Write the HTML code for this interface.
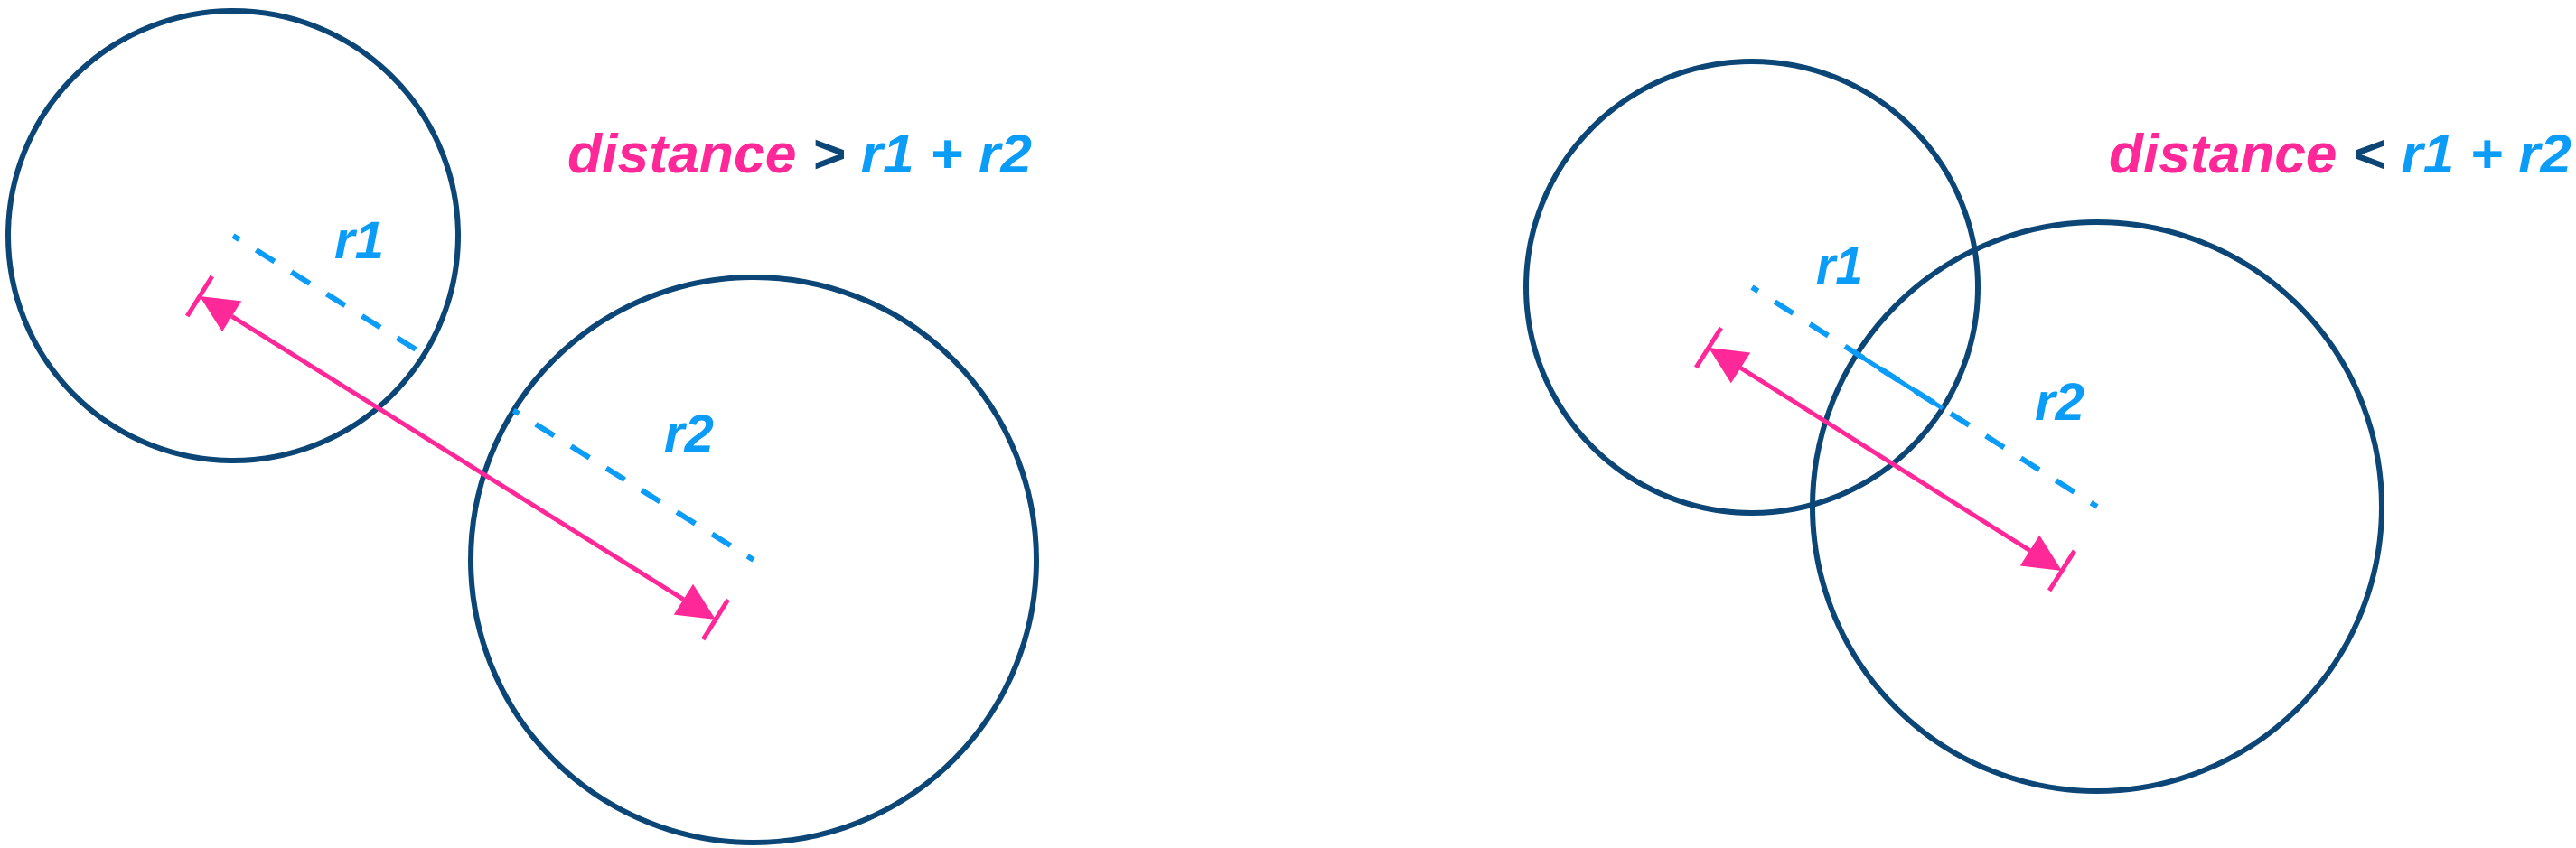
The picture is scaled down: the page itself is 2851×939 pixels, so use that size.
<!DOCTYPE html>
<html><head><meta charset="utf-8"><style>
html,body{margin:0;padding:0;background:#fff;width:2851px;height:939px;overflow:hidden}
text{font-family:"Liberation Sans",Arial,sans-serif;font-weight:bold;font-style:italic}
</style></head><body>
<svg id="s" width="2851" height="939" viewBox="0 0 2851 939" xmlns="http://www.w3.org/2000/svg"></svg>
<script>
// Scene data
const circleCentersX = [258, 834, 1939, 2321];
const circleCentersY = [261, 620, 318, 561];
const circleRadii = [249, 313, 250, 315];
const arrowStarts = [[221, 328], [1891, 385]];
const arrowEnds = [[792, 686], [2282, 632]];
const NS = 'http://www.w3.org/2000/svg';
const svg = document.getElementById('s');
const NAVY = '#0b4677', BLUE = '#0b9cf7', PINK = '#ff2898';
function mk(tag, attrs) {
  const e = document.createElementNS(NS, tag);
  for (const k in attrs) e.setAttribute(k, attrs[k]);
  svg.appendChild(e);
  return e;
}
for (let i = 0; i < 4; i++) {
  const c = mk('circle', {cx: circleCentersX[i], cy: circleCentersY[i], r: circleRadii[i], fill: 'none', stroke: NAVY, 'stroke-width': 6});
  
  
}
// radius dashed lines
for (let p = 0; p < 2; p++) {
  const a = p * 2, b = a + 1;
  const dx = circleCentersX[b] - circleCentersX[a], dy = circleCentersY[b] - circleCentersY[a];
  const L = Math.hypot(dx, dy), ux = dx / L, uy = dy / L;
  const l1 = mk('line', {x1: circleCentersX[a], y1: circleCentersY[a], x2: circleCentersX[a] + ux * circleRadii[a], y2: circleCentersY[a] + uy * circleRadii[a], stroke: BLUE, 'stroke-width': 6, 'stroke-dasharray': '24 22', 'stroke-dashoffset': 16});
  
  
  const l2 = mk('line', {x1: circleCentersX[b], y1: circleCentersY[b], x2: circleCentersX[b] - ux * circleRadii[b], y2: circleCentersY[b] - uy * circleRadii[b], stroke: BLUE, 'stroke-width': 6, 'stroke-dasharray': '24 22', 'stroke-dashoffset': 16});
  
  
  if (circleRadii[a] + circleRadii[b] > L) {
    const s = L - circleRadii[b], e = circleRadii[a];
    const ov = mk('line', {x1: circleCentersX[a] + ux * s, y1: circleCentersY[a] + uy * s, x2: circleCentersX[a] + ux * e, y2: circleCentersY[a] + uy * e, stroke: BLUE, 'stroke-width': 5});
    
    
  }
}
// distance arrows
for (let p = 0; p < 2; p++) {
  const [x1, y1] = arrowStarts[p], [x2, y2] = arrowEnds[p];
  const L = Math.hypot(x2 - x1, y2 - y1), ux = (x2 - x1) / L, uy = (y2 - y1) / L, nx = -uy, ny = ux;
  const ah = 42, aw = 20, tk = 26;
  const ln = mk('line', {x1: x1 + ux * ah, y1: y1 + uy * ah, x2: x2 - ux * ah, y2: y2 - uy * ah, stroke: PINK, 'stroke-width': 5});
  
  
  const ends = [[x1, y1, 1], [x2, y2, -1]];
  for (const [ex, ey, d] of ends) {
    const bx = ex + d * ux * ah, by = ey + d * uy * ah;
    const h = mk('polygon', {points: `${ex},${ey} ${bx + nx * aw},${by + ny * aw} ${bx - nx * aw},${by - ny * aw}`, fill: PINK});
    
    
    const t = mk('line', {x1: ex + nx * tk, y1: ey + ny * tk, x2: ex - nx * tk, y2: ey - ny * tk, stroke: PINK, 'stroke-width': 5});
    
    
  }
}
</script>
<svg width="2851" height="939" style="position:absolute;left:0;top:0">
<text x="628" y="191" font-size="60" textLength="514" lengthAdjust="spacingAndGlyphs"><tspan fill="#ff2898">distance</tspan><tspan fill="#0b4677"> &gt; </tspan><tspan fill="#0b9cf7">r1 + r2</tspan></text>
<text x="2334" y="191" font-size="60" textLength="512" lengthAdjust="spacingAndGlyphs"><tspan fill="#ff2898">distance</tspan><tspan fill="#0b4677"> &lt; </tspan><tspan fill="#0b9cf7">r1 + r2</tspan></text>
<text x="370" y="286" font-size="58" fill="#0b9cf7" textLength="55" lengthAdjust="spacingAndGlyphs">r1</text>
<text x="735" y="500" font-size="58" fill="#0b9cf7" textLength="55" lengthAdjust="spacingAndGlyphs">r2</text>
<text x="2010" y="314" font-size="58" fill="#0b9cf7" textLength="52" lengthAdjust="spacingAndGlyphs">r1</text>
<text x="2252" y="465" font-size="58" fill="#0b9cf7" textLength="55" lengthAdjust="spacingAndGlyphs">r2</text>
</svg>
</body></html>
